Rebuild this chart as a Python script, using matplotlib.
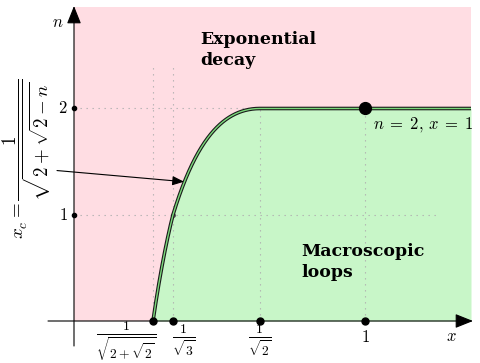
import numpy as np
import matplotlib.pyplot as plt

plt.rcParams['mathtext.fontset'] = 'cm'

# special points on the x axis and their labels
x_ticks = [1 / np.sqrt(2 + np.sqrt(2)), 1 / np.sqrt(3), 1 / np.sqrt(2), 1.0]
x_tick_labels = [r'$\frac{1}{\sqrt{2+\sqrt{2}}}$', r'$\frac{\mathbf{1}}{\sqrt{\mathbf{3}}}$',
                 r'$\frac{1}{\sqrt{2}}$', r'$1$']
n_ticks = [1, 2]
n_tick_labels = [r'$1$', r'$2$']
special_point = (1.0, 2.0)

# the x axis is schematic: piecewise linear between the special points
x_knots = [-0.52, 0.0] + x_ticks + [1.34]
px_knots = [74 - 0.52 * 146, 74, 153, 173, 260, 365, 365 + 0.34 * 358.5]


def fwd(x):
    return np.interp(x, x_knots, px_knots)


def inv(p):
    return np.interp(p, px_knots, x_knots)


x_right = float(inv(471))
n_top = (321 - 7) / 106.25

pink = '#ffdde3'
green = '#c8f6c8'
grid_c = '#b0b0b0'

fig = plt.figure(figsize=(4.8, 3.63), dpi=100)
ax = fig.add_axes([0, 0, 1, 1])
ax.set_xscale('function', functions=(fwd, inv))
ax.set_xlim(inv(0), inv(480))
ax.set_ylim((321 - 363) / 106.25, 321 / 106.25)
ax.axis('off')

# critical line n(x): x_c = 1/sqrt(2+sqrt(2-n)), then flat at n = 2
t = np.linspace(0, 1, 400)
n_curve = 2 - (1 - t) ** 2 * 2
x_curve = 1 / np.sqrt(2 + np.sqrt(2 - n_curve))
x_curve = np.append(x_curve, x_right)
n_curve = np.append(n_curve, 2.0)

ax.fill_between([0, x_right], 0, n_top, color=pink, lw=0, zorder=0)
ax.fill_between(x_curve, 0, n_curve, color=green, lw=0, zorder=1)

# dotted guide lines
dot = dict(color=grid_c, lw=0.8, ls=(0, (1.2, 4.2)), zorder=2)
ax.plot([x_ticks[0]] * 2, [0, 2.43], **dot)
ax.plot([x_ticks[1]] * 2, [0, 2.43], **dot)
ax.plot([x_ticks[2]] * 2, [0, 2], **dot)
ax.plot([x_ticks[3]] * 2, [0, 2], **dot)
ax.plot([0, float(inv(440))], [1, 1], **dot)
ax.plot([0, x_ticks[2]], [2, 2], **dot)

ax.plot(x_curve, n_curve, color='#1a1a1a', lw=2.6, solid_capstyle='butt', zorder=4)
ax.plot(x_curve, n_curve, color='#7ad97a', lw=1.0, solid_capstyle='butt', zorder=5)
ax.plot(x_ticks[1], 1, 'o', color='#555555', ms=2.5, zorder=3)

# axes with arrow heads
head = '-|>,head_length=0.55,head_width=0.22'
ax.annotate('', xy=(inv(473), 0), xytext=(inv(48), 0),
            arrowprops=dict(arrowstyle=head, color='black', lw=0.8,
                            mutation_scale=20, shrinkA=0, shrinkB=0), zorder=6)
ax.annotate('', xy=(0, (321 - 6) / 106.25), xytext=(0, (321 - 346) / 106.25),
            arrowprops=dict(arrowstyle=head, color='black', lw=0.8,
                            mutation_scale=20, shrinkA=0, shrinkB=0), zorder=6)

ax.plot(x_ticks, [0] * len(x_ticks), 'o', color='black', ms=5, zorder=7)
ax.plot([0] * len(n_ticks), n_ticks, 'o', color='black', ms=3, zorder=7)
ax.plot(*special_point, 'o', color='black', ms=8.5, zorder=8)

# tick labels
ax.text(float(inv(157)), -0.2, x_tick_labels[0], ha='right', va='center', fontsize=14)
ax.text(float(inv(172)), -0.185, x_tick_labels[1], ha='left', va='center', fontsize=14)
ax.text(x_ticks[2], -0.185, x_tick_labels[2], ha='center', va='center', fontsize=14)
ax.text(x_ticks[3], -0.155, x_tick_labels[3], ha='center', va='center', fontsize=12)
for n, lab in zip(n_ticks, n_tick_labels):
    ax.text(float(inv(68)), n, lab, ha='right', va='center', fontsize=12)

ax.text(float(inv(451)), -0.14, r'$x$', ha='center', va='center', fontsize=12)
ax.text(float(inv(58)), (321 - 22) / 106.25, r'$n$', ha='center', va='center', fontsize=12)
ax.text(float(inv(373)), 1.85, r'$n\;=\;2,\,x\;=\;1$', ha='left', va='center', fontsize=12)

bold = dict(family='DejaVu Serif', weight='bold', fontsize=12.5, ha='left', va='center',
            linespacing=1.25)
ax.text(float(inv(200)), (321 - 50) / 106.25, 'Exponential\ndecay', **bold)
ax.text(float(inv(301)), (321 - 262) / 106.25, 'Macroscopic\nloops', **bold)

# formula for the critical line
ax.text(float(inv(27)), (321 - 159) / 106.25, r'$x_c = \dfrac{1}{\sqrt{2+\sqrt{2-n}}}$',
        rotation=90, ha='center', va='center', fontsize=13.6)
ax.annotate('', xy=(0.5938, 1.311), xytext=(float(inv(57)), 1.416),
            arrowprops=dict(arrowstyle='-|>,head_length=0.5,head_width=0.2', color='black',
                            lw=0.8, mutation_scale=14, shrinkA=0, shrinkB=0), zorder=6)

fig.savefig('out.png', dpi=100)
